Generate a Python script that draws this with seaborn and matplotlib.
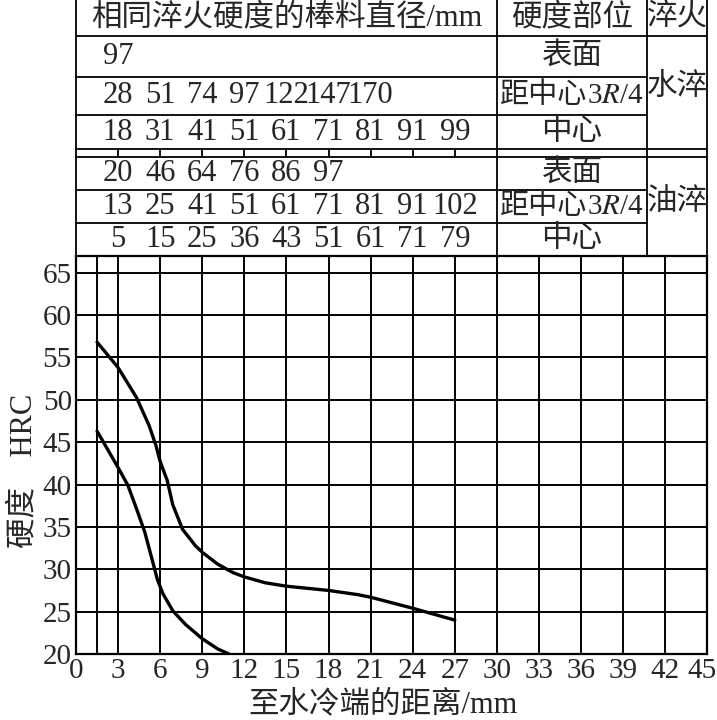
import matplotlib
matplotlib.use("Agg")
import matplotlib.pyplot as plt
import matplotlib.transforms as mtransforms
import seaborn as sns
import pandas as pd

# curves: distance from quenched end (mm) -> HRC
upper_x = [1.5, 3, 4.3, 5.2, 5.7, 6, 6.5, 6.9, 7.6, 8.5, 9, 10.1, 11.2, 12, 13.5, 15, 18, 20.1, 21, 24, 27]
upper_y = [56.8, 53.8, 50.3, 47.0, 44.6, 42.7, 40.5, 37.6, 34.7, 32.8, 32.0, 30.6, 29.6, 29.1, 28.4, 28.0, 27.5, 27.0, 26.7, 25.4, 24.0]
lower_x = [1.5, 3, 3.7, 4.3, 4.9, 5.4, 5.8, 6.2, 6.9, 7.8, 9, 10.1, 10.9]
lower_y = [46.3, 42.0, 39.9, 37.2, 34.4, 31.3, 28.8, 27.1, 25.1, 23.5, 21.8, 20.6, 20.0]

# bar diameters with equal hardness, placed under distances 3, 6, 9, ...
table_x = [3, 6, 9, 12, 15, 18, 21, 24, 27]
water_surface = [97]
water_34 = [28, 51, 74, 97, 122, 147, 170]
water_center = [18, 31, 41, 51, 61, 71, 81, 91, 99]
oil_surface = [20, 46, 64, 76, 86, 97]
oil_34 = [13, 25, 41, 51, 61, 71, 81, 91, 102]
oil_center = [5, 15, 25, 36, 43, 51, 61, 71, 79]

x_ticks = [0, 3, 6, 9, 12, 15, 18, 21, 24, 27, 30, 33, 36, 39, 42, 45]
y_ticks = [20, 25, 30, 35, 40, 45, 50, 55, 60, 65]

sns.set_style("white")
plt.rcParams["font.family"] = ["Liberation Serif", "Noto Sans CJK SC"]
plt.rcParams["mathtext.fontset"] = "stix"

FS = 22
fig = plt.figure(figsize=(7.17, 7.2), dpi=100)
L, R = 76 / 717, 707.3 / 717
B, T = 1 - 654 / 720, 1 - 255.7 / 720
ax = fig.add_axes([L, B, R - L, T - B])
tab = fig.add_axes([L, T, R - L, 1 - T], sharex=ax)

df = pd.concat([
    pd.DataFrame({"x": upper_x, "y": upper_y, "c": "upper"}),
    pd.DataFrame({"x": lower_x, "y": lower_y, "c": "lower"}),
])
sns.lineplot(data=df, x="x", y="y", units="c", estimator=None, sort=False,
             color="black", lw=2.4, ax=ax, legend=False)

ax.set_xlim(0, 45)
ax.set_ylim(20, 67)
ax.set_xticks(x_ticks)
ax.set_xticks([1.5], minor=True)
ax.set_yticks(y_ticks)
ax.tick_params(axis="both", which="both", length=0, labelsize=21)
ax.tick_params(axis="x", pad=3)
ax.tick_params(axis="y", pad=3)
ax.grid(True, which="both", axis="x", color="black", lw=1.4)
ax.grid(True, which="major", axis="y", color="black", lw=1.4)
for s in ax.spines.values():
    s.set_color("black")
    s.set_linewidth(1.6)
last = ax.get_xticklabels()[-1]
last.set_transform(last.get_transform() + mtransforms.ScaledTranslation(-4 / 72, 0, fig.dpi_scale_trans))
ax.set_xlabel("至水冷端的距离/mm", fontsize=22, va="center")
ax.xaxis.set_label_coords(0.487, -0.128)
ax.set_ylabel("硬度    HRC", fontsize=22)
ax.yaxis.set_label_coords(-0.06, 0.46)

# table above the chart, rows in pixel units from the top
rows = [0, 36, 76.7, 115, 149, 157.3, 190, 223.3, 255.7]
c2, c3 = 30, 40.7
tab.set_ylim(255.7, 0)
tab.axis("off")
kw = dict(color="black", lw=1.3, clip_on=False)
for y in [rows[1], rows[4], rows[5]]:
    tab.hlines(y, 0, 45, **kw)
for y in [rows[2], rows[3], rows[6], rows[7]]:
    tab.hlines(y, 0, c3, **kw)
for x in [0, c2, c3, 45]:
    tab.vlines(x, 0, 255.7, **kw)
tab.vlines(table_x, rows[4], rows[5], **kw)

tab.text(c2 / 2, rows[1] / 2, "相同淬火硬度的棒料直径/mm", ha="center", va="center", fontsize=22)
tab.text((c2 + c3) / 2, rows[1] / 2, "硬度部位", ha="center", va="center", fontsize=22)
tab.text((c3 + 45) / 2, rows[1] / 2, "淬火", ha="center", va="center", fontsize=22)

groups = [
    (water_surface, "表面", 1),
    (water_34, None, 2),
    (water_center, "中心", 3),
    (oil_surface, "表面", 5),
    (oil_34, None, 6),
    (oil_center, "中心", 7),
]
for vals, name, r in groups:
    yc = (rows[r] + rows[r + 1]) / 2
    for x, v in zip(table_x, vals):
        tab.text(x, yc, str(v), ha="center", va="center", fontsize=FS)
    if name:
        tab.text((c2 + c3) / 2, yc, name, ha="center", va="center", fontsize=22)
    else:
        t1 = tab.text(c2 + 0.2, yc, "距中心", ha="left", va="center", fontsize=21)
        tab.annotate("3$R$/4", xy=(1, 0.5), xycoords=t1, ha="left", va="center", fontsize=21)

tab.text((c3 + 45) / 2, 87, "水淬", ha="center", va="center", fontsize=22)
tab.text((c3 + 45) / 2, 203, "油淬", ha="center", va="center", fontsize=22)

fig.savefig("out.png", dpi=100)
